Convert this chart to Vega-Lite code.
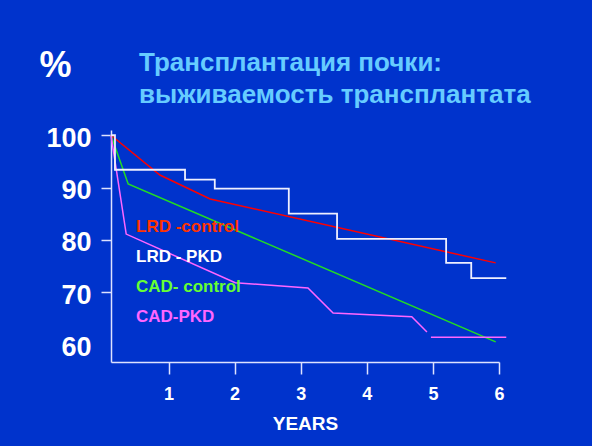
{
  "$schema": "https://vega.github.io/schema/vega-lite/v6.json",
  "width": 388,
  "height": 232,
  "autosize": {"type": "none"},
  "padding": {"left": 111, "top": 130, "right": 93, "bottom": 84},
  "background": "#0033cc",
  "config": {"view": {"stroke": null}, "font": "Liberation Sans"},
  "title": {
    "text": ["Трансплантация почки:", "выживаемость трансплантата"],
    "anchor": "start",
    "frame": "group",
    "dx": 28,
    "dy": 61,
    "offset": 0,
    "fontSize": 26,
    "fontWeight": "bold",
    "color": "#66ccff",
    "lineHeight": 32
  },
  "data": {
    "values": [
      {"series": "LRD -control", "seg": "a", "year": 0.13, "value": 100},
      {"series": "LRD -control", "seg": "a", "year": 0.87, "value": 92.4},
      {"series": "LRD -control", "seg": "a", "year": 1.63, "value": 87.8},
      {"series": "LRD -control", "seg": "a", "year": 5.95, "value": 75.6},
      {"series": "LRD - PKD", "seg": "a", "year": 0.13, "value": 100},
      {"series": "LRD - PKD", "seg": "a", "year": 0.19, "value": 93.4},
      {"series": "LRD - PKD", "seg": "a", "year": 1.25, "value": 91.5},
      {"series": "LRD - PKD", "seg": "a", "year": 1.70, "value": 89.8},
      {"series": "LRD - PKD", "seg": "a", "year": 2.82, "value": 85.0},
      {"series": "LRD - PKD", "seg": "a", "year": 3.55, "value": 80.2},
      {"series": "LRD - PKD", "seg": "a", "year": 5.20, "value": 75.6},
      {"series": "LRD - PKD", "seg": "a", "year": 5.58, "value": 72.7},
      {"series": "LRD - PKD", "seg": "a", "year": 6.11, "value": 72.7},
      {"series": "CAD- control", "seg": "a", "year": 0.13, "value": 100},
      {"series": "CAD- control", "seg": "a", "year": 0.39, "value": 90.7},
      {"series": "CAD- control", "seg": "a", "year": 5.95, "value": 60.5},
      {"series": "CAD-PKD", "seg": "a", "year": 0.13, "value": 100},
      {"series": "CAD-PKD", "seg": "a", "year": 0.36, "value": 81.1},
      {"series": "CAD-PKD", "seg": "a", "year": 2.01, "value": 71.8},
      {"series": "CAD-PKD", "seg": "a", "year": 3.11, "value": 70.8},
      {"series": "CAD-PKD", "seg": "a", "year": 3.49, "value": 66.0},
      {"series": "CAD-PKD", "seg": "a", "year": 4.68, "value": 65.3},
      {"series": "CAD-PKD", "seg": "a", "year": 4.91, "value": 62.4},
      {"series": "CAD-PKD", "seg": "b", "year": 4.97, "value": 61.4},
      {"series": "CAD-PKD", "seg": "b", "year": 6.11, "value": 61.4}
    ]
  },
  "encoding": {
    "x": {
      "field": "year",
      "type": "quantitative",
      "scale": {"domain": [0.13, 6.0], "nice": false, "zero": false},
      "axis": {
        "values": [1, 2, 3, 4, 5, 6],
        "grid": false,
        "title": "YEARS",
        "titleColor": "white",
        "titleFontSize": 19,
        "titleFontWeight": "bold",
        "titleBaseline": "alphabetic",
        "titleY": 67,
        "titlePadding": 0,
        "labelColor": "white",
        "labelFontSize": 18,
        "labelFontWeight": "bold",
        "labelBaseline": "alphabetic",
        "labelPadding": 25,
        "labelFlush": false,
        "tickSize": 12,
        "tickColor": "#dde2ff",
        "tickWidth": 1.5,
        "domainColor": "#dde2ff",
        "domainWidth": 1.5
      }
    },
    "y": {
      "field": "value",
      "type": "quantitative",
      "scale": {"domain": [56.65, 101.0], "nice": false, "zero": false},
      "axis": {
        "values": [60, 70, 80, 90, 100],
        "grid": false,
        "title": "%",
        "titleAngle": 0,
        "titleAlign": "left",
        "titleBaseline": "alphabetic",
        "titleX": -72,
        "titleY": -54,
        "titleFontSize": 36,
        "titleFontWeight": "bold",
        "titleColor": "white",
        "labelColor": "white",
        "labelFontSize": 27,
        "labelFontWeight": "bold",
        "labelPadding": 10,
        "labelOffset": 3,
        "tickSize": 10,
        "tickColor": "#dde2ff",
        "tickWidth": 1.5,
        "tickOpacity": {"condition": {"test": "datum.value === 60", "value": 0}, "value": 1},
        "domainColor": "#dde2ff",
        "domainWidth": 1.5
      }
    },
    "color": {
      "field": "series",
      "type": "nominal",
      "scale": {
        "domain": ["LRD -control", "LRD - PKD", "CAD- control", "CAD-PKD"],
        "range": ["#ff0000", "#eef0ff", "#22dd22", "#ff66ff"]
      },
      "legend": {
        "orient": "none",
        "legendX": 8,
        "legendY": 88,
        "title": null,
        "padding": 0,
        "symbolSize": 0,
        "symbolStrokeWidth": 0,
        "symbolOpacity": 0,
        "labelOffset": 0,
        "labelFontSize": 17,
        "labelFontWeight": "bold",
        "labelBaseline": "middle",
        "labelLimit": 300,
        "rowPadding": 12,
        "encode": {
          "labels": {
            "update": {
              "fill": {"signal": "datum.value === 'LRD -control' ? '#ff3300' : datum.value === 'LRD - PKD' ? '#ffffff' : datum.value === 'CAD- control' ? '#66ff33' : '#ff66ff'"}
            }
          }
        }
      }
    },
    "detail": {"field": "seg"}
  },
  "layer": [
    {
      "transform": [{"filter": "datum.series !== 'LRD - PKD'"}],
      "mark": {"type": "line", "strokeWidth": 1.5, "clip": false}
    },
    {
      "transform": [{"filter": "datum.series === 'LRD - PKD'"}],
      "mark": {"type": "line", "interpolate": "step-after", "strokeWidth": 1.8, "clip": false}
    }
  ]
}
